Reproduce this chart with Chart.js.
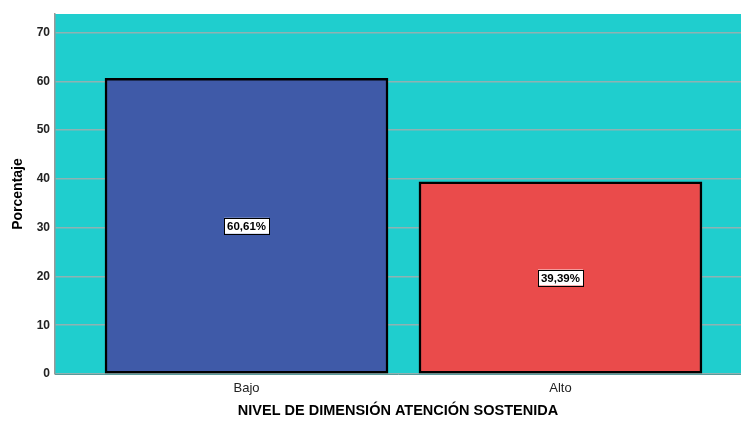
<!DOCTYPE html>
<html>
<head>
<meta charset="utf-8">
<script src="https://cdn.jsdelivr.net/npm/chart.js@4"></script>
<style>
  html, body { margin: 0; padding: 0; background: #ffffff; }
  #wrap { width: 741px; height: 424px; }
</style>
</head>
<body>
<div id="wrap"><canvas id="chart" width="741" height="424"></canvas></div>
<script>
// chart data
const categories = ['Bajo', 'Alto'];
const percentages = [60.61, 39.39];
const valueLabels = ['60,61%', '39,39%'];
const yTicks = [0, 10, 20, 30, 40, 50, 60, 70];

const barColors = ['#3f5aa8', '#ea4b4b'];

// teal plot background
const plotBackground = {
    id: 'plotBackground',
    beforeDraw(chart) {
        const { ctx, chartArea } = chart;
        ctx.save();
        ctx.fillStyle = '#1fcece';
        ctx.fillRect(chartArea.left, chartArea.top, chartArea.right - chartArea.left, chartArea.bottom - chartArea.top);
        ctx.restore();
    }
};

// boxed value labels in the middle of each bar
const boxLabels = {
    id: 'boxLabels',
    afterDatasetsDraw(chart) {
        const { ctx } = chart;
        const meta = chart.getDatasetMeta(0);
        ctx.save();
        ctx.font = 'bold 11.5px Arial, "Liberation Sans", sans-serif';
        ctx.textAlign = 'center';
        ctx.textBaseline = 'middle';
        meta.data.forEach((bar, i) => {
            const text = valueLabels[i];
            const y = (bar.y + bar.base) / 2;
            const w = ctx.measureText(text).width + 6;
            const h = 16;
            ctx.fillStyle = '#ffffff';
            ctx.fillRect(bar.x - w / 2, y - h / 2, w, h);
            ctx.strokeStyle = '#000000';
            ctx.lineWidth = 1;
            ctx.strokeRect(Math.round(bar.x - w / 2) + 0.5, Math.round(y - h / 2) + 0.5, Math.round(w), h);
            ctx.fillStyle = '#000000';
            ctx.fillText(text, bar.x, y + 1);
        });
        ctx.restore();
    }
};

new Chart(document.getElementById('chart'), {
    type: 'bar',
    data: {
        datasets: [{
            data: percentages.map((v, i) => ({ x: i, y: v })),
            backgroundColor: barColors,
            borderColor: '#000000',
            borderWidth: 2.5,
            borderSkipped: false,
            barThickness: 283
        }]
    },
    options: {
        responsive: false,
        animation: false,
        layout: { padding: { top: 14, right: 0, left: 0, bottom: 0 } },
        plugins: {
            legend: { display: false },
            tooltip: { enabled: false }
        },
        scales: {
            x: {
                type: 'linear',
                offset: false,
                min: -0.61,
                max: 1.575,
                afterBuildTicks(axis) {
                    axis.ticks = categories.map((c, i) => ({ value: i }));
                },
                afterFit(axis) { axis.height = 50; },
                grid: { display: false, drawTicks: false },
                border: { display: true, color: '#5a9a9a', width: 1 },
                ticks: {
                    padding: 7,
                    color: '#222222',
                    font: { family: 'Arial, "Liberation Sans", sans-serif', size: 13 },
                    callback: (value) => categories[value] ?? ''
                },
                title: {
                    display: true,
                    text: 'NIVEL DE DIMENSIÓN ATENCIÓN SOSTENIDA',
                    color: '#000000',
                    font: { family: 'Arial, "Liberation Sans", sans-serif', size: 14.5, weight: 'bold' },
                    padding: { top: 7 }
                }
            },
            y: {
                min: 0,
                max: 73.8,
                afterBuildTicks(axis) {
                    axis.ticks = yTicks.map(v => ({ value: v }));
                },
                afterFit(axis) { axis.width = 55; },
                grid: {
                    color: '#8fb2b2',
                    lineWidth: 1.5,
                    drawTicks: false
                },
                border: { display: true, color: '#999999', width: 1.5 },
                ticks: {
                    padding: 5,
                    color: '#222222',
                    font: { family: 'Arial, "Liberation Sans", sans-serif', size: 12, weight: 'bold' }
                },
                title: {
                    display: true,
                    text: 'Porcentaje',
                    color: '#000000',
                    font: { family: 'Arial, "Liberation Sans", sans-serif', size: 14, weight: 'bold' },
                    padding: { top: 10, bottom: 0 }
                }
            }
        }
    },
    plugins: [plotBackground, boxLabels]
});
</script>
</body>
</html>
